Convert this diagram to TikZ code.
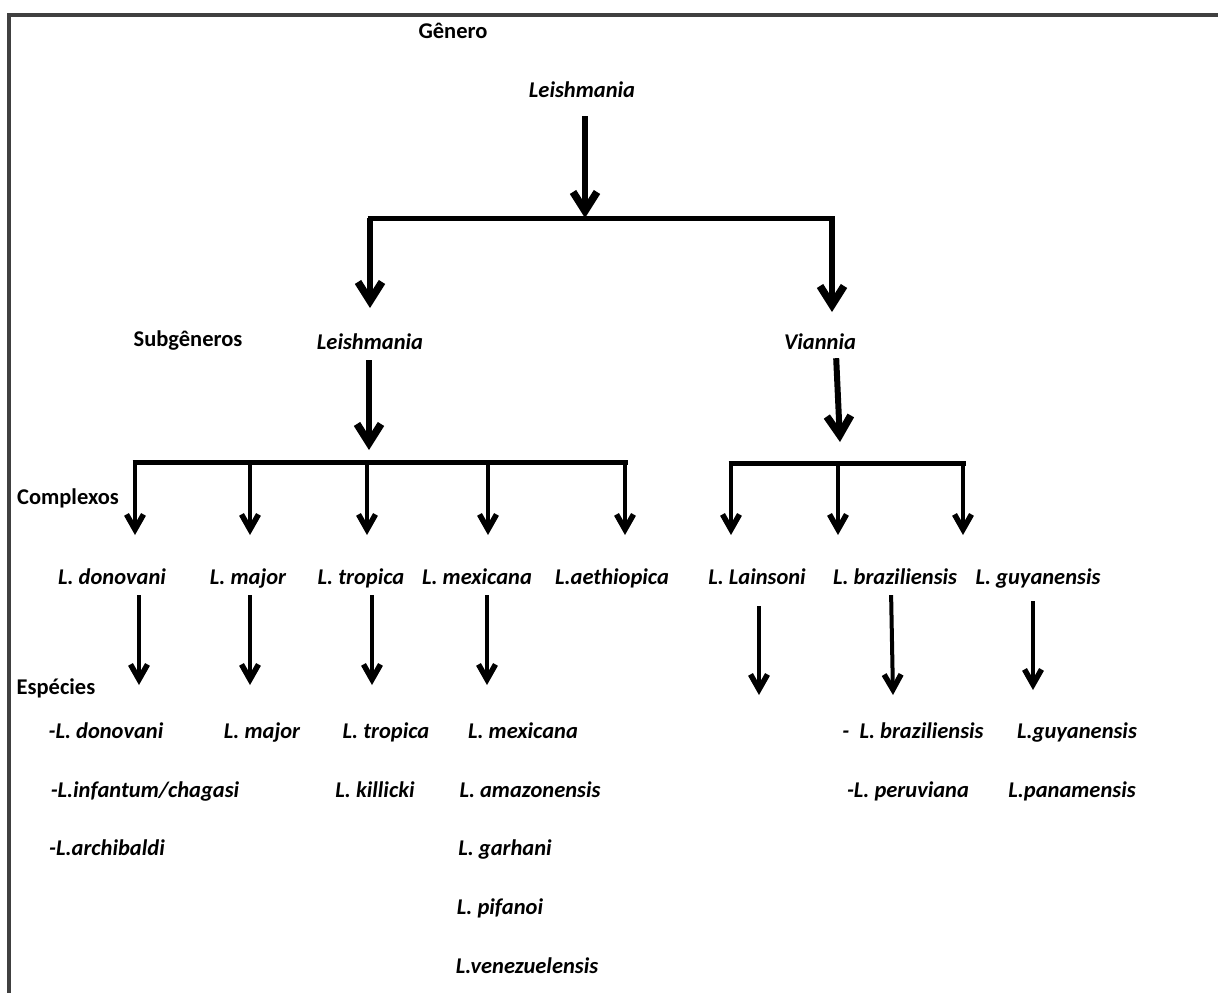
\documentclass[tikz,border=0pt]{standalone}
\usepackage{fontspec}
\setmainfont{Carlito}
\usetikzlibrary{arrows.meta}
\definecolor{framegray}{RGB}{64,64,64}

\begin{document}
\begin{tikzpicture}[x=1pt,y=-1pt,
    every node/.style={font=\fontsize{22.5}{26}\selectfont\bfseries,inner sep=0pt,text height=15pt,text depth=5pt},
    sp/.style={font=\fontsize{22.5}{26}\selectfont\bfseries\itshape},
    big/.style={-{Straight Barb[length=19pt,width=24pt,line width=7.5pt]},line width=6pt},
    small/.style={-{Straight Barb[length=15pt,width=17pt,line width=5.5pt]},line width=4pt},
    bar/.style={line width=5pt}]
    \useasboundingbox (0,0) rectangle (1218,993);
    \draw[framegray,line width=4pt](9,995)--(9,14.5)--(1220,14.5);
    % genero
    \node(genero)at(453,33){Gênero};
    \node[sp](leish)at(582,92){Leishmania};
    % subgeneros
    \node(subg)at(188,341){Subgêneros};
    \node[sp](sLeish)at(370,344){Leishmania};
    \node[sp](sVian)at(820,344){Viannia};
    % complexos
    \node(compl)at(68,499){Complexos};
    \node[sp](cDon)at(112,579){L. donovani};
    \node[sp](cMaj)at(248,579){L. major};
    \node[sp](cTro)at(361,579){L. tropica};
    \node[sp](cMex)at(477,579){L. mexicana};
    \node[sp](cAet)at(612,579){L.aethiopica};
    \node[sp](cLai)at(757,579){L. Lainsoni};
    \node[sp](cBra)at(895,579){L. braziliensis};
    \node[sp](cGuy)at(1038,579){L. guyanensis};
    % especies
    \node(esp)at(56,689){Espécies};
    \node[sp](eDon)at(106,733){-L. donovani};
    \node[sp](eInf)at(145,792){-L.infantum/chagasi};
    \node[sp](eArc)at(107,850){-L.archibaldi};
    \node[sp](eMaj)at(262,733){L. major};
    \node[sp](eTro)at(386,733){L. tropica};
    \node[sp](eKil)at(375,792){L. killicki};
    \node[sp](eMex)at(523,733){L. mexicana};
    \node[sp](eAma)at(530,792){L. amazonensis};
    \node[sp](eGar)at(505,850){L. garhani};
    \node[sp](ePif)at(500,909){L. pifanoi};
    \node[sp](eVen)at(527,968){L.venezuelensis};
    \node[sp](eBra)at(913,733){-\ \ L. braziliensis};
    \node[sp](ePer)at(908,792){-L. peruviana};
    \node[sp](eGuy)at(1077,733){L.guyanensis};
    \node[sp](ePan)at(1072,792){L.panamensis};

    % bars
    \coordinate(b1m)at(585,218);
    \coordinate(b1a)at(370,218);\coordinate(b1b)at(832,218);
    \coordinate(b2a)at(135,462);\coordinate(b2b)at(250,462);\coordinate(b2c)at(367,462);
    \coordinate(b2d)at(488,462);\coordinate(b2e)at(625,462);
    \coordinate(b3a)at(731,463);\coordinate(b3b)at(838,463);\coordinate(b3c)at(963,463);
    \draw[bar](367.5,218)--(834.5,218);
    \draw[bar](132.5,462)--(627.5,462);
    \draw[bar](728.5,463)--(965.5,463);

    % tips
    \coordinate(t1a)at(370,308);\coordinate(t1b)at(832,312);
    \coordinate(t2)at(369,450);\coordinate(t3)at(840,442);
    \coordinate(d2a)at(135,535);\coordinate(d2b)at(250,535);\coordinate(d2c)at(367,535);
    \coordinate(d2d)at(488,535);\coordinate(d2e)at(625,535);
    \coordinate(d3a)at(731,535);\coordinate(d3b)at(838,535);\coordinate(d3c)at(963,535);
    \coordinate(eA)at(139,685);\coordinate(eB)at(250,685);\coordinate(eC)at(372,685);
    \coordinate(eD)at(487,685);\coordinate(eE)at(759,695);\coordinate(eF)at(893,695);
    \coordinate(eG)at(1033,690);

    \draw[big,shorten <=14pt](leish.south-|b1m)--(b1m);
    \path[big](b1a) edge (t1a)
              (b1b) edge (t1b);
    \draw[big,shorten <=6pt](sLeish.south-|t2)--(t2);
    \draw[big,shorten <=4pt]([xshift=16pt]sVian.south)--(t3);
    \path[small](b2a) edge (d2a)
                (b2b) edge (d2b)
                (b2c) edge (d2c)
                (b2d) edge (d2d)
                (b2e) edge (d2e)
                (b3a) edge (d3a)
                (b3b) edge (d3b)
                (b3c) edge (d3c);
    \path[small,shorten <=6pt](cDon.south-|eA) edge (eA)
                (cMaj.south-|eB) edge (eB)
                (cTro.south-|eC) edge (eC)
                (cMex.south-|eD) edge (eD)
                ([xshift=-4pt]cBra.south) edge (eF);
    \draw[small,shorten <=17pt](cLai.south-|eE)--(eE);
    \draw[small,shorten <=12pt](cGuy.south-|eG)--(eG);
\end{tikzpicture}
\end{document}
